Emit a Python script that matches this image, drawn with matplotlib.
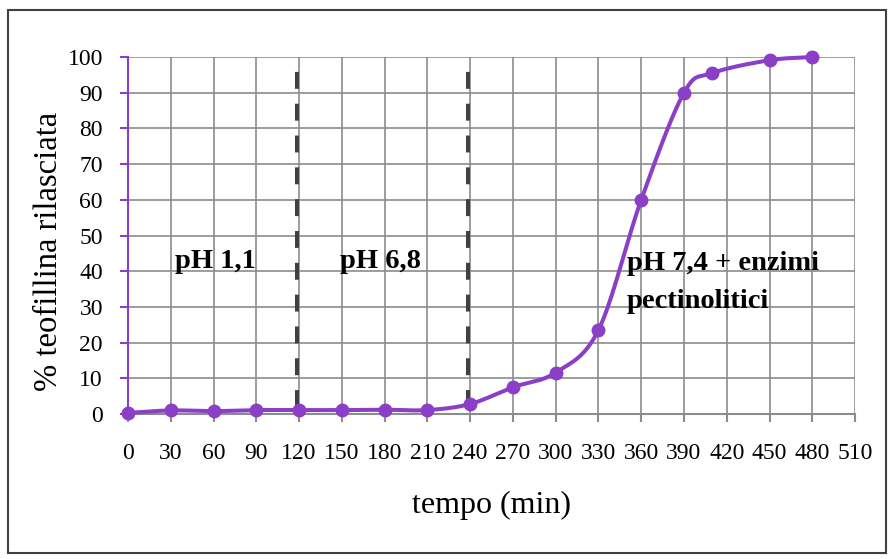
import matplotlib.pyplot as plt
import matplotlib.transforms as mtransforms
from matplotlib.patches import Rectangle
import numpy as np

# data
tempo = [0, 30, 60, 90, 120, 150, 180, 210, 240, 270, 300, 330, 360, 390, 410, 450, 480]
rilascio = [0.3, 1.0, 0.8, 1.1, 1.1, 1.1, 1.2, 1.1, 2.8, 7.5, 11.6, 23.5, 60.0, 90.0, 95.5, 99.1, 100.0]
phase_bounds = [120, 240]
phase_labels = ["pH 1,1", "pH 6,8", "pH 7,4 + enzimi\npectinolitici"]
phase_pos = [(33, 41), (149, 41), (350, 29.7)]

purple = '#8a3fc6'
gray = '#8c8c8c'

plt.rcParams['font.family'] = ['Liberation Serif', 'DejaVu Serif']


def smooth(x, y, n=20):
    # Catmull-Rom style smoothing like Excel's smoothed line
    x = np.asarray(x, float)
    y = np.asarray(y, float)
    px = np.concatenate([[2 * x[0] - x[1]], x, [2 * x[-1] - x[-2]]])
    py = np.concatenate([[2 * y[0] - y[1]], y, [2 * y[-1] - y[-2]]])
    xs, ys = [], []
    t = np.linspace(0, 1, n)
    for i in range(1, len(px) - 2):
        for p, out in ((px, xs), (py, ys)):
            p0, p1, p2, p3 = p[i - 1], p[i], p[i + 1], p[i + 2]
            out.extend(0.5 * ((2 * p1) + (-p0 + p2) * t
                              + (2 * p0 - 5 * p1 + 4 * p2 - p3) * t ** 2
                              + (-p0 + 3 * p1 - 3 * p2 + p3) * t ** 3))
    return np.array(xs), np.array(ys)


fig = plt.figure(figsize=(8.93, 5.59), dpi=100)
ax = fig.add_axes([0.1433, 0.2594, 0.8142, 0.6386])

# outer chart border
fig.patches.append(Rectangle((0.009, 0.011), 0.983, 0.972, transform=fig.transFigure,
                             fill=False, edgecolor='#404040', linewidth=1.5))

ax.set_xlim(0, 510)
ax.set_ylim(0, 100)
ax.set_xticks(np.arange(0, 511, 30))
ax.set_yticks(np.arange(0, 101, 10))
ax.grid(True, color=gray, linewidth=1.2, zorder=0)
ax.set_axisbelow(True)

for s in ['top', 'right']:
    ax.spines[s].set_visible(False)
ax.spines['left'].set_color(purple)
ax.spines['left'].set_linewidth(1.5)
ax.spines['bottom'].set_color(gray)
ax.spines['bottom'].set_linewidth(1.5)
ax.tick_params(axis='y', colors=purple, length=6, width=1.5, labelcolor='black',
               labelsize=17, pad=12)
ax.tick_params(axis='x', colors=gray, length=6, width=1.5, labelcolor='black',
               labelsize=17, pad=15)

sx, sy = smooth(tempo, rilascio)
ax.plot(sx, sy, color=purple, linewidth=2.9, zorder=3, clip_on=False)
ax.plot(tempo, rilascio, 'o', color=purple, markersize=9, zorder=4, clip_on=False)

shift = mtransforms.offset_copy(ax.transData, fig=fig, x=-2.5, y=0, units='dots')
for b in phase_bounds:
    ax.plot([b, b], [100, 0], color='#404040', linewidth=2.9,
            linestyle=(4.2, (4.2, 3.7)), transform=shift, zorder=2)

for lab, (x, y) in zip(phase_labels, phase_pos):
    ax.text(x, y, lab, fontsize=20.5, fontweight='bold', va='baseline', ha='left',
            linespacing=1.7)

ax.set_xlabel('tempo (min)', fontsize=23, va='top')
ax.xaxis.set_label_coords(0.5, -0.215)
ax.set_ylabel('% teofillina rilasciata', fontsize=23.5)
ax.yaxis.set_label_coords(-0.088, 0.455)

fig.savefig('out.png', dpi=100)
